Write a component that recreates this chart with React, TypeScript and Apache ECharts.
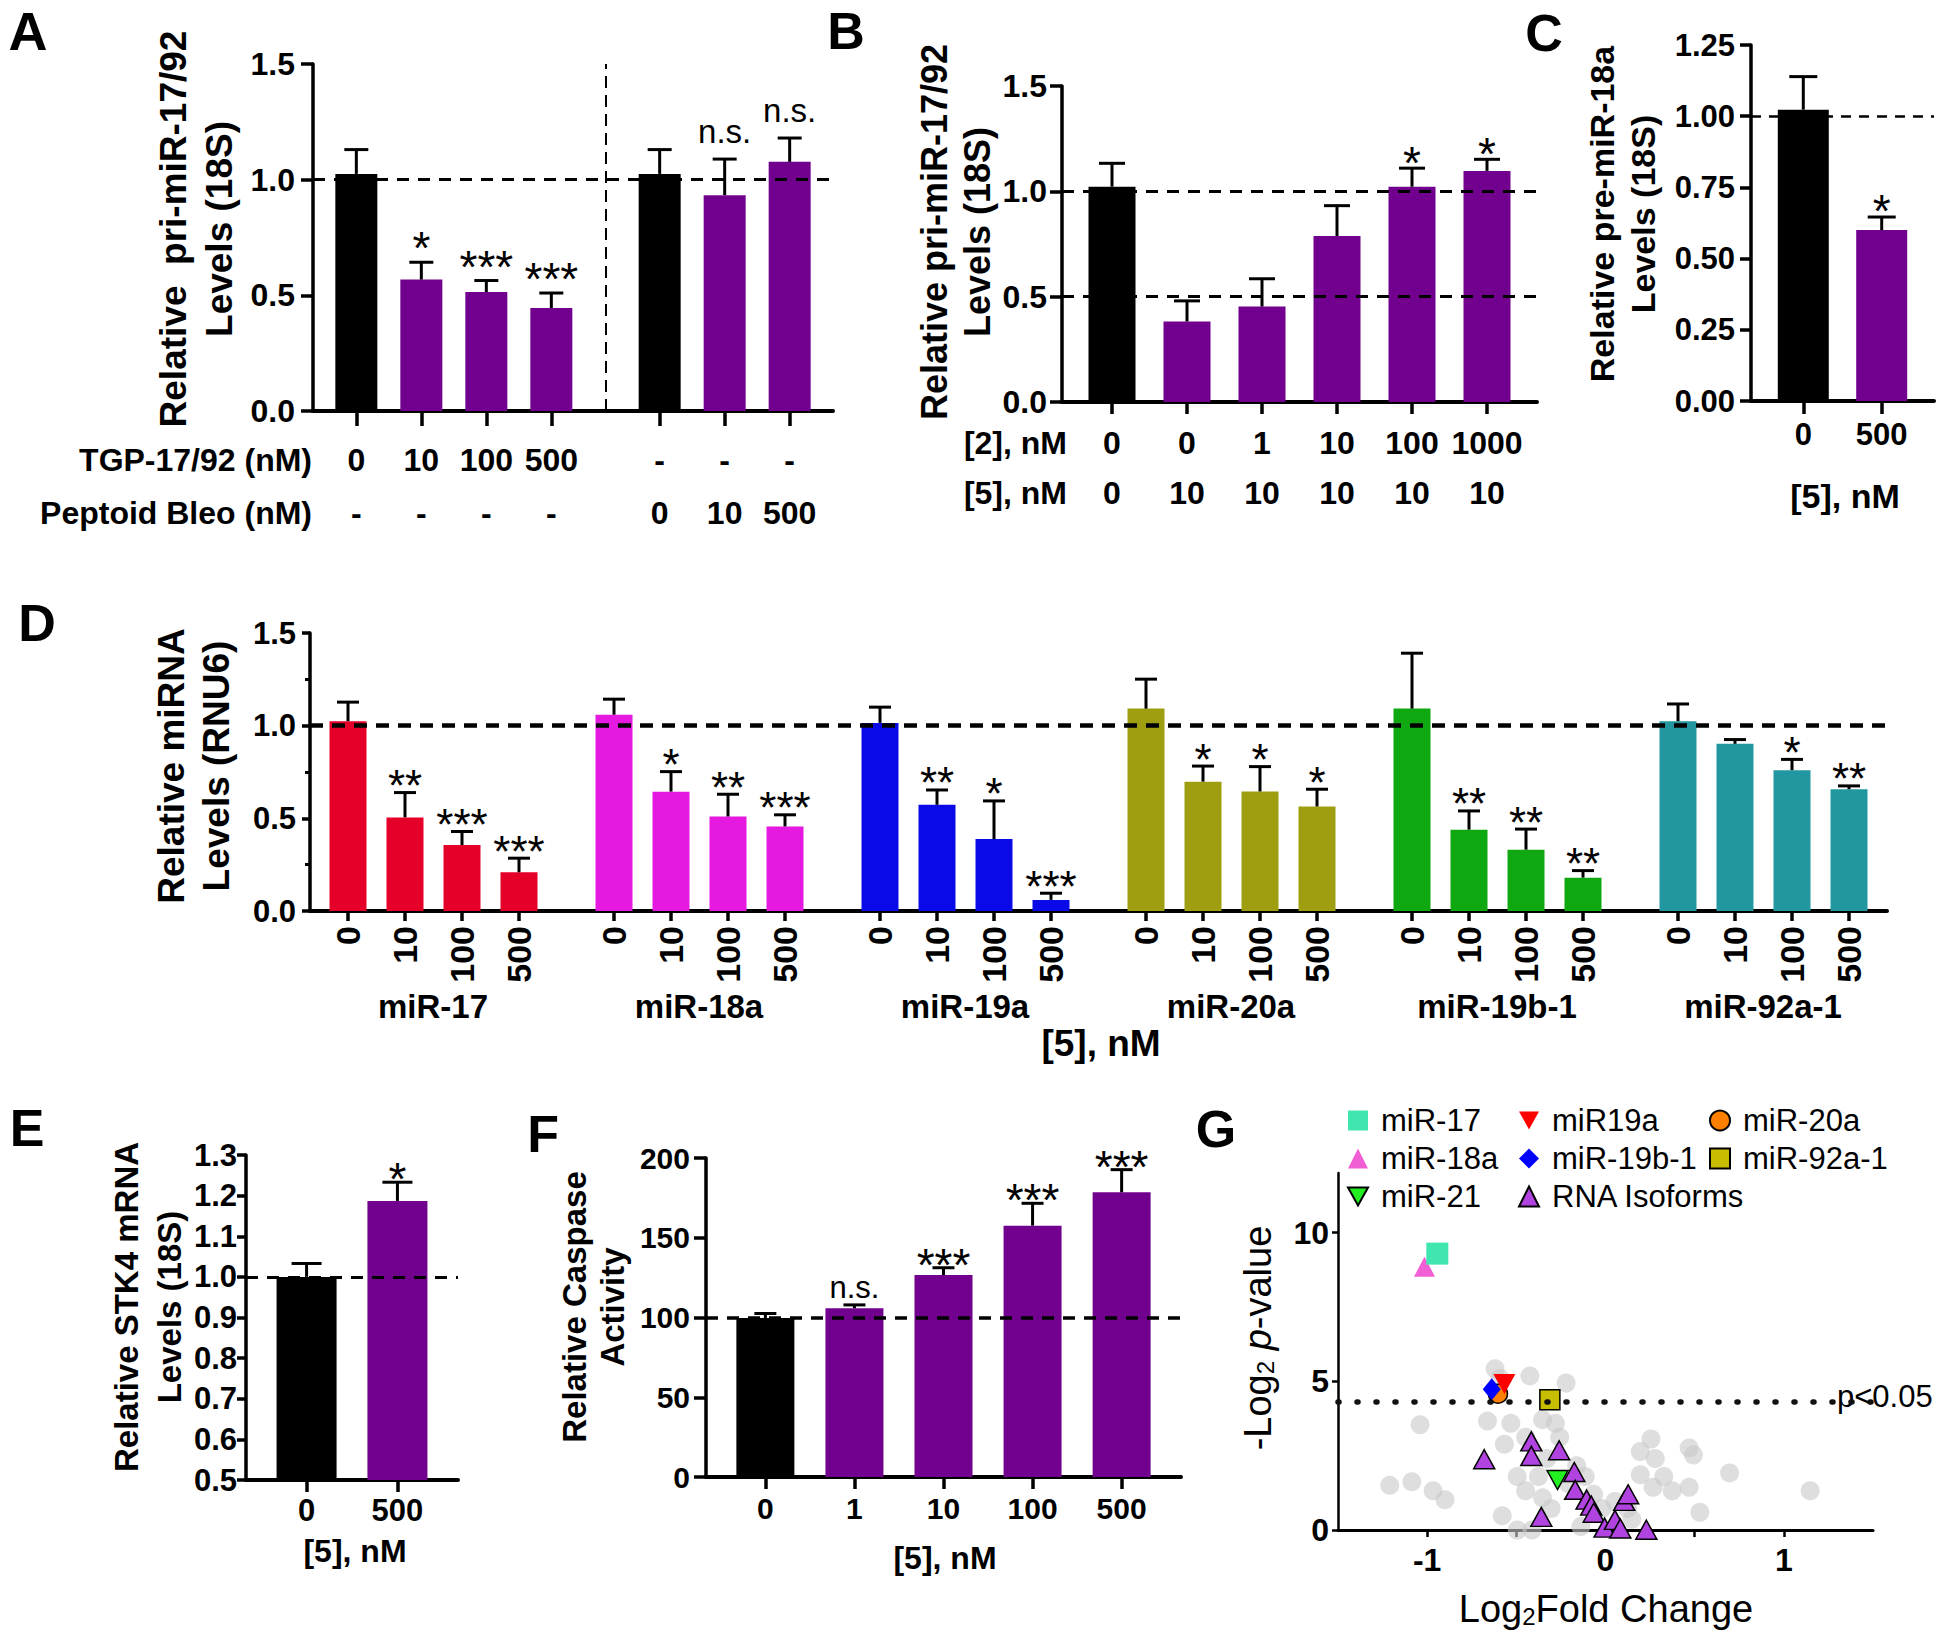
import React, { useEffect, useRef } from 'react';
import * as echarts from 'echarts';

const FONT = "'Liberation Sans', Arial, Helvetica, sans-serif";
const INK = '#000000';
const CONTROL = '#000000';
const PURPLE = '#72008F';
const DOWN_TRIANGLE = 'path://M0,0L2,0L1,1.8Z';

// ===== Panel A: pri-miR-17/92 (18S) =====
const A_TGP = ['0', '10', '100', '500', '-', '-', '-'];
const A_BLEO = ['-', '-', '-', '-', '0', '10', '500'];
const A_VALUES = [1.025, 0.568, 0.514, 0.445, 1.025, 0.933, 1.077];
const A_ERR = [1.13, 0.643, 0.564, 0.51, 1.13, 1.089, 1.18];
const A_STARS = ['', '*', '***', '***', '', 'n.s.', 'n.s.'];
const A_COLORS = [CONTROL, PURPLE, PURPLE, PURPLE, CONTROL, PURPLE, PURPLE];

// ===== Panel B =====
const B_CMPD2 = ['0', '0', '1', '10', '100', '1000'];
const B_CMPD5 = ['0', '10', '10', '10', '10', '10'];
const B_VALUES = [1.022, 0.382, 0.453, 0.788, 1.022, 1.097];
const B_ERR = [1.133, 0.48, 0.585, 0.932, 1.11, 1.152];
const B_STARS = ['', '', '', '', '*', '*'];
const B_COLORS = [CONTROL, PURPLE, PURPLE, PURPLE, PURPLE, PURPLE];

// ===== Panel C =====
const C_DOSES = ['0', '500'];
const C_VALUES = [1.023, 0.6];
const C_ERR = [1.139, 0.646];
const C_STARS = ['', '*'];
const C_COLORS = [CONTROL, PURPLE];

// ===== Panel D =====
const D_GROUPS = ['miR-17', 'miR-18a', 'miR-19a', 'miR-20a', 'miR-19b-1', 'miR-92a-1'];
const D_DOSES = ['0', '10', '100', '500'];
const D_VALUES = [
  [1.024, 0.505, 0.356, 0.209],
  [1.059, 0.644, 0.51, 0.456],
  [1.015, 0.573, 0.388, 0.06],
  [1.092, 0.698, 0.645, 0.564],
  [1.092, 0.439, 0.331, 0.18],
  [1.024, 0.902, 0.76, 0.657],
];
const D_ERR = [
  [1.127, 0.639, 0.429, 0.285],
  [1.143, 0.752, 0.63, 0.519],
  [1.1, 0.653, 0.594, 0.096],
  [1.251, 0.782, 0.779, 0.657],
  [1.391, 0.54, 0.442, 0.218],
  [1.117, 0.925, 0.818, 0.675],
];
const D_STARS = [
  ['', '**', '***', '***'],
  ['', '*', '**', '***'],
  ['', '**', '*', '***'],
  ['', '*', '*', '*'],
  ['', '**', '**', '**'],
  ['', '', '*', '**'],
];
const D_COLORS = ['#E5002A', '#E619E0', '#0A0AE8', '#9E9E10', '#10A810', '#2297A0'];

// ===== Panel E =====
const E_DOSES = ['0', '500'];
const E_VALUES = [1.0, 1.187];
const E_ERR = [1.033, 1.233];
const E_STARS = ['', '*'];
const E_COLORS = [CONTROL, PURPLE];

// ===== Panel F =====
const F_DOSES = ['0', '1', '10', '100', '500'];
const F_VALUES = [99.7, 105.8, 126.6, 157.6, 178.5];
const F_ERR = [102.5, 107.9, 131.2, 171.6, 192.7];
const F_STARS = ['', 'n.s.', '***', '***', '***'];
const F_COLORS = [CONTROL, PURPLE, PURPLE, PURPLE, PURPLE];

// ===== Panel G (volcano) =====
const G_THRESHOLD = 4.32; // -log2(0.05)
const G_MIR17 = [[-0.943, 9.29]];
const G_MIR18A = [[-1.015, 8.85]];
const G_MIR19A = [[-0.567, 4.91]];
const G_MIR19B1 = [[-0.638, 4.73]];
const G_MIR20A = [[-0.603, 4.58]];
const G_MIR92A1 = [[-0.312, 4.38]];
const G_MIR21 = [[-0.269, 1.68]];
const G_ISOFORMS = [
  [-0.68, 2.38], [-0.416, 2.98], [-0.416, 2.49], [-0.26, 2.68], [-0.175, 1.95],
  [-0.17, 1.35], [-0.36, 0.44], [-0.106, 1.02], [-0.08, 0.82], [-0.066, 0.58],
  [-0.005, 0.08], [0.053, 0.34], [0.083, 0.05], [0.105, 0.98], [0.127, 1.2], [0.229, 0.01],
];
const G_OTHERS = [
  [-1.21, 1.5], [-1.086, 1.62], [-0.967, 1.32], [-0.9, 1.02], [-1.04, 3.54], [-0.619, 5.42],
  [-0.591, 5.09], [-0.424, 5.18], [-0.221, 4.94], [-0.662, 3.66], [-0.531, 3.59], [-0.567, 2.88],
  [-0.353, 3.71], [-0.281, 3.59], [-0.448, 3.12], [-0.257, 3.12], [-0.495, 1.8], [-0.448, 1.32],
  [-0.376, 1.8], [-0.353, 1.08], [-0.329, 2.4], [-0.305, 0.72], [-0.579, 0.48], [-0.495, 0.0],
  [-0.412, 0.0], [-0.114, 1.8], [-0.138, 0.12], [-0.067, 1.2], [-0.019, 0.72], [0.053, 0.96],
  [0.124, 0.72], [0.148, 0.36], [0.195, 2.64], [0.255, 3.06], [0.279, 2.4], [0.195, 1.86],
  [0.267, 1.44], [0.327, 1.8], [0.374, 1.32], [0.469, 2.76], [0.493, 2.52], [0.469, 1.44],
  [0.529, 0.6], [0.696, 1.92], [1.148, 1.32], [-0.162, 2.16], [-0.209, 1.56],
];

// ---------- helpers ----------
function slotLayout(groups: number[], lead: number, step: number, jump: number, trail: number) {
  const pos: number[] = [];
  let p = lead;
  groups.forEach((n, g) => {
    if (g > 0) p = pos[pos.length - 1] + jump;
    for (let i = 0; i < n; i++) {
      pos.push(p);
      p += step;
    }
  });
  return { pos, count: pos[pos.length - 1] + trail + 1 };
}

function slotNames(count: number, pos: number[], labels: string[]) {
  const names: string[] = new Array(count).fill('');
  pos.forEach((p, i) => (names[p] = labels[i]));
  return names;
}

const notBlank = (_i: number, v: string) => v !== '';

function catAxis(gridIndex: number, names: string[], o: any) {
  return {
    type: 'category',
    gridIndex,
    data: names,
    boundaryGap: false,
    axisLine: { show: true, onZero: false, lineStyle: { color: INK, width: 4 } },
    axisTick: { show: true, length: o.tick, interval: notBlank, lineStyle: { color: INK, width: 3.5 } },
    axisLabel: {
      show: true,
      interval: notBlank,
      margin: o.margin,
      rotate: o.rotate || 0,
      fontSize: o.size,
      fontWeight: 'bold',
      fontFamily: FONT,
      color: INK,
      lineHeight: o.lineHeight,
    },
    splitLine: { show: false },
  };
}

function valAxis(gridIndex: number, min: number, max: number, interval: number, o: any) {
  return {
    type: 'value',
    gridIndex,
    min,
    max,
    interval,
    axisLine: { show: true, onZero: false, lineStyle: { color: INK, width: 3.5 } },
    axisTick: { show: true, length: o.tick, lineStyle: { color: INK, width: 3.5 } },
    minorTick: { show: !!o.minor, splitNumber: 2, length: 5, lineStyle: { color: INK, width: 3 } },
    axisLabel: {
      margin: o.margin,
      fontSize: o.size,
      fontWeight: 'bold',
      fontFamily: FONT,
      color: INK,
      formatter: (v: number) => v.toFixed(o.decimals),
    },
    splitLine: { show: false },
    minorSplitLine: { show: false },
  };
}

function dashed(value: number, width: number, dash: number[]) {
  return { yAxis: value, lineStyle: { type: dash, width, color: INK } };
}

function barSeries(xi: number, yi: number, pos: number[], values: number[], colors: string[], barWidth: number, lines: any[]) {
  return {
    type: 'bar',
    xAxisIndex: xi,
    yAxisIndex: yi,
    barWidth,
    silent: true,
    data: pos.map((p, i) => ({ value: [p, values[i]], itemStyle: { color: colors[i] } })),
    markLine: {
      silent: true,
      symbol: 'none',
      label: { show: false },
      data: lines,
    },
  };
}

function errSeries(xi: number, yi: number, pos: number[], values: number[], errs: number[], stars: string[], capW: number, cfg: any) {
  return {
    type: 'custom',
    xAxisIndex: xi,
    yAxisIndex: yi,
    silent: true,
    z: 5,
    data: pos.map((p, i) => [p, values[i], errs[i]]),
    encode: { x: 0, y: [1, 2] },
    renderItem: (params: any, api: any) => {
      const i = params.dataIndex;
      const base = api.coord([api.value(0), api.value(1)]);
      const top = api.coord([api.value(0), api.value(2)]);
      const children: any[] = [
        { type: 'line', shape: { x1: base[0], y1: base[1], x2: top[0], y2: top[1] }, style: { stroke: INK, lineWidth: 3 } },
        { type: 'line', shape: { x1: top[0] - capW / 2, y1: top[1], x2: top[0] + capW / 2, y2: top[1] }, style: { stroke: INK, lineWidth: 3 } },
      ];
      const s = stars[i];
      if (s) {
        const ns = s === 'n.s.';
        children.push({
          type: 'text',
          x: top[0],
          y: top[1] - (ns ? cfg.nsOff : cfg.off),
          style: {
            text: s,
            fontSize: ns ? cfg.nsSize : cfg.size,
            fontFamily: FONT,
            fill: INK,
            align: 'center',
            verticalAlign: 'middle',
          },
        });
      }
      return { type: 'group', children };
    },
  };
}

function scatter(name: string, data: number[][], symbol: string, size: any, color: string, opts: any = {}) {
  return {
    type: 'scatter',
    name,
    xAxisIndex: 7,
    yAxisIndex: 6,
    data,
    symbol,
    symbolSize: size,
    silent: true,
    itemStyle: {
      color,
      opacity: 1,
      borderColor: opts.border ? INK : undefined,
      borderWidth: opts.border ? 1.5 : 0,
    },
    z: opts.z || 3,
  };
}

function text(x: number, y: number, t: string, size: number, o: any = {}) {
  return {
    type: 'text',
    x,
    y,
    rotation: o.rot ? Math.PI / 2 : 0,
    silent: true,
    style: {
      text: t,
      fontSize: size,
      fontWeight: o.weight || 'bold',
      fontFamily: FONT,
      fill: INK,
      align: o.align || 'center',
      verticalAlign: 'middle',
      lineHeight: o.lh,
      rich: o.rich,
    },
  };
}

function buildOption() {
  const aL = slotLayout([4, 3], 4, 6, 10, 4);
  const bL = slotLayout([6], 2, 3, 0, 2);
  const cL = slotLayout([2], 2, 3, 0, 2);
  const dL = slotLayout(D_GROUPS.map(() => D_DOSES.length), 2, 3, 5, 2);
  const eL = slotLayout([2], 2, 3, 0, 2);
  const fL = slotLayout([5], 2, 3, 0, 2);

  const aNames = slotNames(aL.count, aL.pos, A_TGP.map((t, i) => `${t}\n${A_BLEO[i]}`));
  const bNames = slotNames(bL.count, bL.pos, B_CMPD2.map((t, i) => `${t}\n${B_CMPD5[i]}`));
  const cNames = slotNames(cL.count, cL.pos, C_DOSES);
  const dNames = slotNames(dL.count, dL.pos, D_GROUPS.flatMap(() => D_DOSES));
  const eNames = slotNames(eL.count, eL.pos, E_DOSES);
  const fNames = slotNames(fL.count, fL.pos, F_DOSES);

  const dValues = D_VALUES.flat();
  const dErr = D_ERR.flat();
  const dStars = D_STARS.flat();
  const dColors = D_GROUPS.flatMap((_, g) => D_DOSES.map(() => D_COLORS[g]));

  const grid = [
    { left: 313, top: 64, width: 520, height: 347 },
    { left: 1062, top: 86, width: 475, height: 316 },
    { left: 1751, top: 45, width: 183, height: 356 },
    { left: 310, top: 633, width: 1577, height: 278 },
    { left: 246, top: 1155, width: 212, height: 325 },
    { left: 706, top: 1158, width: 475, height: 319 },
    { left: 1338, top: 1173, width: 535, height: 357 },
    // group-name band for panel D (one band per miRNA group)
    { left: 300, top: 633, width: 1596, height: 278 },
  ].map((g) => ({ ...g, containLabel: false, outerBoundsMode: 'none' }));

  const xAxis: any[] = [
    catAxis(0, aNames, { tick: 15, margin: 22, size: 32, lineHeight: 53 }),
    catAxis(1, bNames, { tick: 12, margin: 16, size: 32, lineHeight: 50 }),
    catAxis(2, cNames, { tick: 13, margin: 18, size: 31 }),
    catAxis(3, dNames, { tick: 10, margin: 15, size: 34, rotate: 90 }),
    {
      type: 'category',
      gridIndex: 7,
      data: D_GROUPS,
      position: 'bottom',
      offset: 71,
      boundaryGap: true,
      axisLine: { show: false },
      axisTick: { show: false },
      axisLabel: { margin: 8, fontSize: 33, fontWeight: 'bold', fontFamily: FONT, color: INK, interval: 0 },
      splitLine: { show: false },
    },
    catAxis(4, eNames, { tick: 12, margin: 15, size: 31 }),
    catAxis(5, fNames, { tick: 12, margin: 16, size: 30 }),
    {
      type: 'value',
      gridIndex: 6,
      min: -1.5,
      max: 1.5,
      interval: 0.5,
      axisLine: { show: true, onZero: false, lineStyle: { color: INK, width: 3 } },
      axisTick: { show: true, length: 7, customValues: [-1, -0.5, 0, 0.5, 1], lineStyle: { color: INK, width: 2.5 } },
      axisLabel: {
        margin: 14,
        fontSize: 32,
        fontWeight: 'bold',
        fontFamily: FONT,
        color: INK,
        customValues: [-1, 0, 1],
        formatter: (v: number) => (Number.isInteger(v) ? String(v) : ''),
      },
      splitLine: { show: false },
    },
  ];

  const yAxis: any[] = [
    valAxis(0, 0, 1.5, 0.5, { tick: 12, margin: 18, size: 32, decimals: 1 }),
    valAxis(1, 0, 1.5, 0.5, { tick: 12, margin: 15, size: 32, decimals: 1 }),
    valAxis(2, 0, 1.25, 0.25, { tick: 11, margin: 16, size: 31, decimals: 2 }),
    valAxis(3, 0, 1.5, 0.5, { tick: 8, margin: 14, size: 31, decimals: 1, minor: true }),
    valAxis(4, 0.5, 1.3, 0.1, { tick: 9, margin: 9, size: 31, decimals: 1 }),
    valAxis(5, 0, 200, 50, { tick: 12, margin: 16, size: 30, decimals: 0 }),
    {
      type: 'value',
      gridIndex: 6,
      min: 0,
      max: 12,
      interval: 5,
      axisLine: { show: true, onZero: false, lineStyle: { color: INK, width: 2.5 } },
      axisTick: { show: true, length: 6, customValues: [0, 5, 10], lineStyle: { color: INK, width: 2.5 } },
      axisLabel: {
        margin: 9,
        fontSize: 32,
        fontWeight: 'bold',
        fontFamily: FONT,
        color: INK,
        customValues: [0, 5, 10],
        formatter: (v: number) => (v % 5 === 0 ? String(v) : ''),
      },
      splitLine: { show: false },
    },
    { type: 'value', gridIndex: 7, show: false, min: 0, max: 1 },
  ];

  const series: any[] = [
    barSeries(0, 0, aL.pos, A_VALUES, A_COLORS, 42, [
      dashed(1, 3, [12, 9]),
      { xAxis: 27, lineStyle: { type: [12, 7], width: 2, color: INK } },
    ]),
    errSeries(0, 0, aL.pos, A_VALUES, A_ERR, A_STARS, 24, { size: 46, off: 14, nsSize: 33, nsOff: 28 }),
    barSeries(1, 1, bL.pos, B_VALUES, B_COLORS, 47, [dashed(1, 3, [12, 9]), dashed(0.5, 3, [12, 9])]),
    errSeries(1, 1, bL.pos, B_VALUES, B_ERR, B_STARS, 26, { size: 46, off: 5, nsSize: 33, nsOff: 20 }),
    barSeries(2, 2, cL.pos, C_VALUES, C_COLORS, 51, [dashed(1, 2.5, [10, 8])]),
    errSeries(2, 2, cL.pos, C_VALUES, C_ERR, C_STARS, 28, { size: 46, off: 6, nsSize: 33, nsOff: 20 }),
    barSeries(3, 3, dL.pos, dValues, dColors, 37, [dashed(1, 4.5, [13, 9])]),
    errSeries(3, 3, dL.pos, dValues, dErr, dStars, 22, { size: 44, off: 7, nsSize: 33, nsOff: 20 }),
    barSeries(5, 4, eL.pos, E_VALUES, E_COLORS, 60, [dashed(1, 3, [12, 9])]),
    errSeries(5, 4, eL.pos, E_VALUES, E_ERR, E_STARS, 30, { size: 46, off: 3, nsSize: 33, nsOff: 20 }),
    barSeries(6, 5, fL.pos, F_VALUES, F_COLORS, 58, [dashed(100, 3.5, [12, 9])]),
    errSeries(6, 5, fL.pos, F_VALUES, F_ERR, F_STARS, 22, { size: 46, off: 3, nsSize: 31, nsOff: 17 }),
    {
      ...scatter('Other RNAs', G_OTHERS, 'circle', 19, 'rgba(200,200,200,0.6)', { z: 2 }),
      markLine: {
        silent: true,
        symbol: 'none',
        label: { show: false },
        data: [{ yAxis: G_THRESHOLD }],
        lineStyle: { type: [1, 18], width: 5.5, cap: 'round', color: '#111' },
      },
    },
    scatter('RNA Isoforms', G_ISOFORMS, 'triangle', [21, 19], '#B144E0', { border: true }),
    scatter('miR-21', G_MIR21, DOWN_TRIANGLE, [21, 19], '#22EE22', { border: true }),
    scatter('miR-92a-1', G_MIR92A1, 'rect', 20, '#C8BE00', { border: true }),
    scatter('miR-20a', G_MIR20A, 'circle', 19, '#FF8000', { border: true }),
    scatter('miR-19b-1', G_MIR19B1, 'diamond', [18, 22], '#0000FF'),
    scatter('miR19a', G_MIR19A, DOWN_TRIANGLE, [22, 20], '#FF0000'),
    scatter('miR-18a', G_MIR18A, 'triangle', [21, 20], '#F25ED4'),
    scatter('miR-17', G_MIR17, 'rect', 22, '#40E6B0'),
  ];

  const legendBase = {
    orient: 'vertical',
    itemWidth: 20,
    itemHeight: 20,
    itemGap: 7,
    padding: 0,
    selectedMode: false,
    textStyle: { fontSize: 31, fontFamily: FONT, color: INK, lineHeight: 31, padding: [0, 0, 0, 8] },
  };
  const legend = [
    { ...legendBase, left: 1347, top: 1105, data: ['miR-17', 'miR-18a', 'miR-21'] },
    { ...legendBase, left: 1518, top: 1105, data: ['miR19a', 'miR-19b-1', 'RNA Isoforms'] },
    { ...legendBase, left: 1709, top: 1105, data: ['miR-20a', 'miR-92a-1'] },
  ];

  const richLabel = {
    a: { fontSize: 38, fontFamily: FONT, fill: INK },
    s: { fontSize: 24, fontFamily: FONT, fill: INK, verticalAlign: 'bottom', lineHeight: 16 },
    i: { fontSize: 38, fontFamily: FONT, fill: INK, fontStyle: 'italic' },
  };

  const graphic = [
    text(28, 31, 'A', 54),
    text(846, 31, 'B', 52),
    text(1544, 33, 'C', 52),
    text(37, 623, 'D', 52),
    text(27, 1128, 'E', 52),
    text(543, 1134, 'F', 52),
    text(1216, 1129, 'G', 52),
    // row headers
    text(312, 460, 'TGP-17/92 (nM)', 32, { align: 'right' }),
    text(312, 513, 'Peptoid Bleo (nM)', 32, { align: 'right' }),
    text(1067, 443, '[2], nM', 32, { align: 'right' }),
    text(1067, 493, '[5], nM', 32, { align: 'right' }),
    // y titles
    text(196, 229, 'Relative\u00a0\u00a0pri-miR-17/92\nLevels (18S)', 37, { rot: true, lh: 46 }),
    text(956, 232, 'Relative pri-miR-17/92\nLevels (18S)', 36, { rot: true, lh: 43 }),
    text(1622, 214, 'Relative pre-miR-18a\nLevels (18S)', 34, { rot: true, lh: 41 }),
    text(194, 766, 'Relative miRNA\nLevels (RNU6)', 37, { rot: true, lh: 45 }),
    text(148, 1307, 'Relative STK4 mRNA\nLevels (18S)', 33, { rot: true, lh: 43 }),
    text(593, 1307, 'Relative Caspase\nActivity', 33, { rot: true, lh: 38 }),
    text(1258, 1338, '{a|-Log}{s|2}{a| }{i|p}{a|-value}', 38, { rot: true, weight: 'normal', rich: richLabel }),
    // x titles
    text(1845, 496, '[5], nM', 34),
    text(1101, 1043, '[5], nM', 37),
    text(355, 1551, '[5], nM', 32),
    text(945, 1558, '[5], nM', 32),
    text(1606, 1609, '{a|Log}{s|2}{a|Fold Change}', 38, { weight: 'normal', rich: richLabel }),
    text(1837, 1396, 'p<0.05', 31, { weight: 'normal', align: 'left' }),
  ];

  return {
    animation: false,
    backgroundColor: '#ffffff',
    textStyle: { fontFamily: FONT },
    grid,
    xAxis,
    yAxis,
    legend,
    series,
    graphic,
  };
}

export default function App() {
  const ref = useRef<HTMLDivElement>(null);
  useEffect(() => {
    if (!ref.current) return;
    const chart = echarts.init(ref.current, null, { renderer: 'svg' });
    chart.setOption(buildOption() as any);
    return () => chart.dispose();
  }, []);
  return (
    <div
      ref={ref}
      style={{ position: 'absolute', left: 0, top: 0, width: 1950, height: 1637, background: '#ffffff' }}
    />
  );
}
